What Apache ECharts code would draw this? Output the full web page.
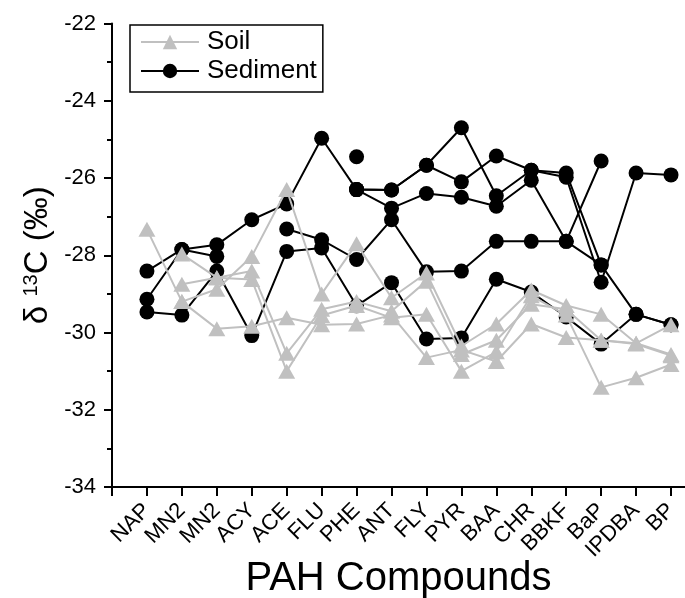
<!DOCTYPE html>
<html>
<head>
<meta charset="utf-8">
<script src="https://cdn.jsdelivr.net/npm/echarts@6/dist/echarts.min.js"></script>
<style>html,body{margin:0;padding:0;background:#fff}#c{width:685px;height:598px}</style>
</head>
<body>
<div id="c"></div>
<script>
const categories = ['NAP','MN2','MN2','ACY','ACE','FLU','PHE','ANT','FLY','PYR','BAA','CHR','BBKF','BaP','IPDBA','BP'];
const yTicks = [-34,-32,-30,-28,-26,-24,-22];

// Sediment (black circles)
const sedA = [-28.41,-27.85,-27.73,-27.08,-26.67,-24.97,-26.30,-26.31,-25.67,-24.70,-26.46,-25.80,-25.98,-28.70,-25.87,-25.92];
const sedB = [-29.14,-27.85,-28.03,null,-27.32,-27.60,-28.11,-27.08,-28.43,-28.41,-27.64,-27.64,-27.64,-25.56,null,null];
const sedC = [-29.47,-29.55,-28.41,-30.08,-27.90,-27.81,-29.31,-28.71,-30.17,-30.14,-28.62,-28.95,-29.60,-30.30,-29.53,-29.80];
const sedD = [null,null,null,null,null,null,-26.30,-26.31,-25.67,-26.10,-25.43,-25.80,-25.87,-28.25,-29.53,-29.80];
const sedE = [null,null,null,null,null,null,-26.30,-26.78,-26.40,-26.50,-26.73,-26.06,-27.64,-28.25,null,null];
const sedF = [null,null,null,null,null,null,-25.45,null,null,null,null,null,null,null,null,null];

// Soil (grey triangles)
const soil1 = [-27.33,-29.20,-28.88,-28.03,-26.30,-29.00,-27.70,-29.10,-28.46,-30.35,-29.78,-28.90,-29.30,-29.53,-30.28,-29.80];
const soil2 = [null,-27.97,-28.58,-28.41,-30.54,-29.40,-29.20,-29.45,-28.67,-30.57,-30.20,-29.27,-29.40,-30.20,-30.28,-30.57];
const soil3 = [null,-28.75,-28.58,-28.63,-31.00,-29.56,-29.30,-29.62,-29.53,-31.00,-30.50,-29.05,-29.55,-31.42,-31.17,-30.83];
const soil4 = [null,-29.20,-29.90,-29.84,-29.62,-29.80,-29.78,-29.55,-30.65,-30.45,-30.75,-29.78,-30.13,-30.20,-30.30,-30.60];

const FONT = 'Liberation Sans, Arial, sans-serif';
const toXY = arr => arr.map((v, i) => [i + 1, v]);

function sedSeries(arr) {
  return {
    name: 'Sediment', type: 'line', data: toXY(arr),
    symbol: 'circle', symbolSize: 15, showSymbol: true,
    lineStyle: { color: '#000', width: 2 },
    itemStyle: { color: '#000' },
    connectNulls: false, z: 2, animation: false
  };
}
function soilSeries(arr) {
  return {
    name: 'Soil', type: 'line', data: toXY(arr),
    symbol: 'triangle', symbolSize: [17, 15], showSymbol: true,
    lineStyle: { color: '#c0c0c0', width: 2 },
    itemStyle: { color: '#c0c0c0' },
    connectNulls: false, z: 3, animation: false
  };
}

const xTickVals = Array.from({ length: categories.length + 1 }, (_, i) => i);
const xLabelVals = Array.from({ length: categories.length }, (_, i) => i + 1);

const chart = echarts.init(document.getElementById('c'), null, { renderer: 'canvas' });
chart.setOption({
  animation: false,
  backgroundColor: '#fff',
  textStyle: { fontFamily: FONT },
  grid: { left: 112, right: 0, top: 23.5, bottom: 111, containLabel: false, outerBoundsMode: 'none' },
  legend: {
    data: ['Soil', 'Sediment'],
    orient: 'vertical', left: 130, top: 25,
    itemWidth: 58, itemHeight: 18, itemGap: 3,
    padding: [4, 6, 8, 10],
    borderColor: '#000', borderWidth: 1.5,
    textStyle: { fontSize: 26, color: '#000', fontFamily: FONT, padding: [0, 0, 0, 3] },
    selectedMode: false
  },
  xAxis: {
    type: 'value', min: 0, max: 16.4, interval: 1,
    name: 'PAH Compounds', nameLocation: 'middle', nameGap: 72, nameMoveOverlap: false,
    nameTextStyle: { fontSize: 40, color: '#000', fontFamily: FONT },
    axisLine: { show: true, lineStyle: { color: '#000', width: 2 } },
    axisTick: { show: true, inside: false, length: 9, customValues: xTickVals, lineStyle: { color: '#000', width: 2 } },
    axisLabel: {
      rotate: 45, fontSize: 22, color: '#000', margin: 20, fontFamily: FONT,
      customValues: xLabelVals,
      formatter: v => (Number.isInteger(v) && v >= 1 && v <= categories.length) ? categories[v - 1] : ''
    },
    splitLine: { show: false }
  },
  yAxis: {
    type: 'value', min: yTicks[0], max: yTicks[yTicks.length - 1], interval: 2,
    name: 'δ {s|13}C (‰)', nameLocation: 'middle', nameGap: 58, nameRotate: 90, nameMoveOverlap: false,
    nameTextStyle: { fontSize: 33, color: '#000', fontFamily: FONT,
      rich: { s: { fontSize: 20, verticalAlign: 'top', color: '#000', fontFamily: FONT } } },
    axisLine: { show: true, lineStyle: { color: '#000', width: 2 } },
    axisTick: { show: true, inside: false, length: 8, lineStyle: { color: '#000', width: 2 } },
    minorTick: { show: true, splitNumber: 2, length: 5, lineStyle: { color: '#000', width: 2 } },
    axisLabel: { fontSize: 22, color: '#000', margin: 16, fontFamily: FONT },
    splitLine: { show: false }
  },
  series: [
    sedSeries(sedA), sedSeries(sedB), sedSeries(sedC), sedSeries(sedD), sedSeries(sedE), sedSeries(sedF),
    soilSeries(soil1), soilSeries(soil2), soilSeries(soil3), soilSeries(soil4)
  ]
});
</script>
</body>
</html>
